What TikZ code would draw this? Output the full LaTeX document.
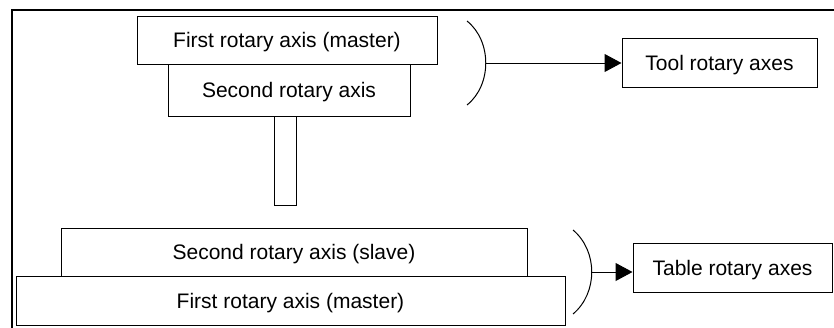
\documentclass[tikz,border=0pt]{standalone}
\usepackage{fontspec}
\setmainfont{Liberation Sans}
\usetikzlibrary{arrows.meta,positioning}

\begin{document}
\begin{tikzpicture}[
     x=1pt, y=-1pt,
     axbox/.style={draw, line width=1pt, fill=white, inner sep=0pt, text height=15pt, text depth=0pt,
                   font=\fontsize{21}{25}\selectfont},
     brk/.style={line width=1pt},
     arr/.style={-{Triangle[length=17pt,width=18pt]}, line width=1pt}]
  \useasboundingbox (0,0) rectangle (834,327);
  \draw[line width=2pt] (12,340) |- (845,10);
  \node[axbox, minimum width=300pt, minimum height=48pt] (tm) at (287,40) {First rotary axis (master)};
  \node[axbox, minimum width=242pt, minimum height=52pt] (ts) at (289,90) {Second rotary axis};
  \node[axbox, minimum width=22pt, minimum height=89pt] (stem) at (285,160.5) {};
  \node[axbox, minimum width=466pt, minimum height=48pt] (bs) at (294,252) {Second rotary axis (slave)};
  \node[axbox, minimum width=549pt, minimum height=49pt] (bm) at (290.5,300.5) {First rotary axis (master)};
  \node[axbox, minimum width=195pt, minimum height=49pt] (tool) at (719.5,62.5) {Tool rotary axes};
  \node[axbox, minimum width=199pt, minimum height=49pt] (table) at (732.5,267.5) {Table rotary axes};
  \coordinate (toolbr) at (486,63);
  \coordinate (tablebr) at (592,272);
  \draw[brk] (467,21) .. controls (492,41) and (492,85) .. (467,105);
  \draw[brk] (573,230) .. controls (598,251) and (598,293) .. (573,314);
  \draw[arr] (toolbr) -- (toolbr -| tool.west);
  \draw[arr] (tablebr) -- (tablebr -| table.west);
\end{tikzpicture}
\end{document}
